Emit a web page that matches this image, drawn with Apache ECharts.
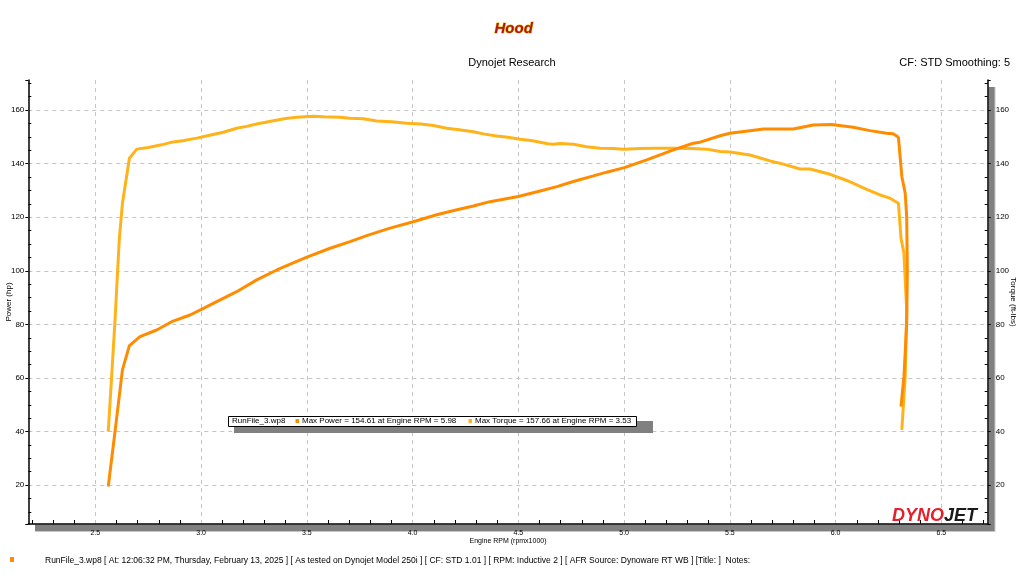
<!DOCTYPE html>
<html>
<head>
<meta charset="utf-8">
<script src="https://cdn.jsdelivr.net/npm/echarts@6/dist/echarts.min.js"></script>
<style>html,body{margin:0;padding:0;background:#fff;}#c{width:1024px;height:576px;}</style>
</head>
<body>
<div id="c"></div>
<script>
// ---- data ----
const powerRpm = [2.561,2.595,2.628,2.661,2.711,2.790,2.861,2.948,3.011,3.074,3.168,3.263,3.358,3.430,3.500,3.610,3.704,3.783,3.893,3.999,4.114,4.200,4.287,4.366,4.500,4.603,4.682,4.760,4.855,4.918,5.001,5.107,5.233,5.327,5.359,5.454,5.500,5.595,5.658,5.737,5.800,5.894,5.980,6.083,6.162,6.241,6.272,6.297,6.313,6.329,6.336,6.339,6.336,6.323,6.309];
const powerHp  = [19.5,41.3,63.0,72.1,75.4,77.9,81.0,83.5,86.0,88.5,92.2,96.6,100.3,102.8,105.1,108.4,110.9,113.1,115.9,118.2,120.9,122.6,124.2,125.8,127.7,129.8,131.4,133.3,135.4,136.8,138.5,141.4,145.1,147.6,148.0,150.4,151.3,152.3,152.9,152.9,152.9,154.4,154.61,153.6,152.3,151.3,151.1,149.8,135.2,129.0,120.2,100.3,80.4,60.5,49.3];
const torqueRpm = [2.561,2.577,2.593,2.613,2.628,2.661,2.696,2.750,2.814,2.861,2.920,2.979,3.040,3.105,3.168,3.215,3.263,3.342,3.400,3.452,3.530,3.578,3.657,3.704,3.767,3.830,3.900,3.972,4.040,4.098,4.161,4.220,4.287,4.340,4.398,4.450,4.508,4.560,4.603,4.640,4.666,4.700,4.760,4.823,4.886,4.950,4.996,5.075,5.150,5.233,5.320,5.391,5.454,5.500,5.595,5.690,5.753,5.832,5.879,5.974,6.053,6.147,6.210,6.257,6.297,6.309,6.323,6.336,6.329,6.313];
const torqueFt  = [40.0,60.5,81.6,111.5,125.2,142.0,145.4,146.0,147.0,148.0,148.6,149.5,150.6,151.7,153.2,153.9,154.8,156.0,156.8,157.3,157.66,157.5,157.3,156.9,156.7,155.9,155.6,155.1,154.8,154.2,153.2,152.6,151.9,151.0,150.3,149.8,149.1,148.6,148.0,147.4,147.2,147.5,147.2,146.3,145.7,145.6,145.4,145.6,145.7,145.7,145.6,145.4,144.5,144.3,143.2,141.0,139.8,138.0,138.0,136.0,133.7,130.4,128.3,127.1,125.2,112.2,106.6,85.4,60.5,40.6];
const rpmRange = [2.183, 6.719];
const valueRange = [5.5, 171.2];

const powerColor = '#FF8C00';
const torqueColor = '#FFB31A';

const powerData = powerRpm.map((r, i) => [r, powerHp[i]]);
const torqueData = torqueRpm.map((r, i) => [r, torqueFt[i]]);

const chart = echarts.init(document.getElementById('c'), null, {renderer: 'canvas'});
const F = 'Liberation Sans, Arial, sans-serif';

const yAxisCommon = {
  type: 'value', min: valueRange[0], max: valueRange[1], splitNumber: 8,
  minInterval: 20, maxInterval: 20,
  nameLocation: 'middle', nameMoveOverlap: false,
  nameTextStyle: {fontFamily: F, fontSize: 8, color: '#000'},
  axisLine: {show: true, lineStyle: {color: '#000', width: 1.5}},
  axisTick: {show: true, inside: false, length: 3, lineStyle: {color: '#000'}},
  minorTick: {show: true, splitNumber: 4, length: -3, lineStyle: {color: '#000'}},
  axisLabel: {fontFamily: F, fontSize: 8, color: '#000', showMinLabel: false, showMaxLabel: false},
};

chart.setOption({
  animation: false,
  backgroundColor: '#fff',
  title: [
    {text: 'Dynojet Research', left: 'center', top: 52, textStyle: {fontFamily: F, fontSize: 11, fontWeight: 'normal', color: '#000'}},
    {text: 'CF: STD Smoothing: 5', right: 9, top: 52, textStyle: {fontFamily: F, fontSize: 11, fontWeight: 'normal', color: '#000'}}
  ],
  grid: {left: 28.3, right: 36.3, top: 80, bottom: 52, containLabel: false, outerBoundsMode: 'none'},
  xAxis: {
    type: 'value', min: rpmRange[0], max: rpmRange[1], splitNumber: 9,
    minInterval: 0.5, maxInterval: 0.5,
    name: 'Engine RPM (rpmx1000)', nameLocation: 'middle', nameGap: 14, nameMoveOverlap: false,
    nameTextStyle: {fontFamily: F, fontSize: 7, color: '#000'},
    axisLine: {show: true, onZero: false, lineStyle: {color: '#000', width: 1.5}},
    axisTick: {show: false},
    minorTick: {show: true, splitNumber: 5, length: -4, lineStyle: {color: '#000'}},
    axisLabel: {fontFamily: F, fontSize: 7, color: '#000', margin: 6, showMinLabel: false, showMaxLabel: false,
      formatter: v => v.toFixed(1)},
    splitLine: {show: true, showMinLine: false, showMaxLine: false, lineStyle: {color: '#c4c4c4', type: [4, 4], width: 1}}
  },
  yAxis: [
    Object.assign({}, yAxisCommon, {
      position: 'left', name: 'Power (hp)', nameGap: 16,
      axisLabel: Object.assign({}, yAxisCommon.axisLabel, {margin: 4}),
      splitLine: {show: true, showMinLine: false, showMaxLine: false, lineStyle: {color: '#c4c4c4', type: [4, 4], width: 1}}
    }),
    Object.assign({}, yAxisCommon, {
      position: 'right', name: 'Torque (ft-lbs)', nameGap: 22, nameRotate: -90,
      axisLabel: Object.assign({}, yAxisCommon.axisLabel, {margin: 8}),
      splitLine: {show: false}
    })
  ],
  series: [
    {name: 'Max Power', type: 'line', data: powerData, yAxisIndex: 0, showSymbol: false, symbol: 'none',
      lineStyle: {color: powerColor, width: 3}, itemStyle: {color: powerColor}, z: 3},
    {name: 'Max Torque', type: 'line', data: torqueData, yAxisIndex: 1, showSymbol: false, symbol: 'none',
      lineStyle: {color: torqueColor, width: 3}, itemStyle: {color: torqueColor}, z: 2}
  ],
  graphic: [
    // axis shadow bands
    {type: 'rect', z: -5, shape: {x: 35, y: 524.5, width: 960, height: 7}, style: {fill: '#808080'}},
    {type: 'rect', z: -5, shape: {x: 35, y: 531, width: 960, height: 1}, style: {fill: '#c8c8c8'}},
    {type: 'rect', z: -5, shape: {x: 988.5, y: 87, width: 6.5, height: 444}, style: {fill: '#808080'}},
    {type: 'rect', z: -5, shape: {x: 994.5, y: 87, width: 1, height: 445}, style: {fill: '#c8c8c8'}},
    // logo
    {type: 'text', z: 10, left: 494, top: 21, style: {text: 'Hood', fontFamily: F, fontSize: 15, fontWeight: 'bold', fontStyle: 'italic',
      fill: '#b01818', stroke: '#f2c200', lineWidth: 1}},
    // legend box
    {type: 'rect', z: 20, shape: {x: 234, y: 421, width: 419, height: 12}, style: {fill: '#808080'}},
    {type: 'rect', z: 21, shape: {x: 228.5, y: 416.5, width: 408, height: 10}, style: {fill: '#fff', stroke: '#000', lineWidth: 1}},
    {type: 'text', z: 22, left: 232, top: 417, style: {text: 'RunFile_3.wp8', fontFamily: F, fontSize: 8, fill: '#000'}},
    {type: 'rect', z: 22, shape: {x: 295.5, y: 419, width: 3.5, height: 4}, style: {fill: powerColor}},
    {type: 'text', z: 22, left: 302, top: 417, style: {text: 'Max Power = 154.61 at Engine RPM = 5.98', fontFamily: F, fontSize: 8, fill: '#000'}},
    {type: 'rect', z: 22, shape: {x: 468.5, y: 419, width: 3.5, height: 4}, style: {fill: torqueColor}},
    {type: 'text', z: 22, left: 475, top: 417, style: {text: 'Max Torque = 157.66 at Engine RPM = 3.53', fontFamily: F, fontSize: 8, fill: '#000'}},
    // Dynojet logo
    {type: 'text', z: 10, left: 892, top: 507, style: {
      text: '{a|DYNO}{b|JET}',
      rich: {
        a: {fontFamily: F, fontSize: 18, fontWeight: 900, fontStyle: 'italic', fill: '#e3212b', color: '#e3212b'},
        b: {fontFamily: F, fontSize: 18, fontWeight: 900, fontStyle: 'italic', fill: '#1a1a1a', color: '#1a1a1a'}
      }}},
    // bottom info line
    {type: 'rect', z: 10, shape: {x: 10, y: 557, width: 4, height: 5}, style: {fill: powerColor}},
    {type: 'text', z: 10, left: 45, top: 556, style: {
      text: 'RunFile_3.wp8 [ At: 12:06:32 PM, Thursday, February 13, 2025 ] [ As tested on Dynojet Model 250i ] [ CF: STD 1.01 ] [ RPM: Inductive 2 ] [ AFR Source: Dynoware RT WB ] [Title: ]  Notes:',
      fontFamily: F, fontSize: 8.5, fill: '#000'}}
  ]
});
</script>
</body>
</html>
